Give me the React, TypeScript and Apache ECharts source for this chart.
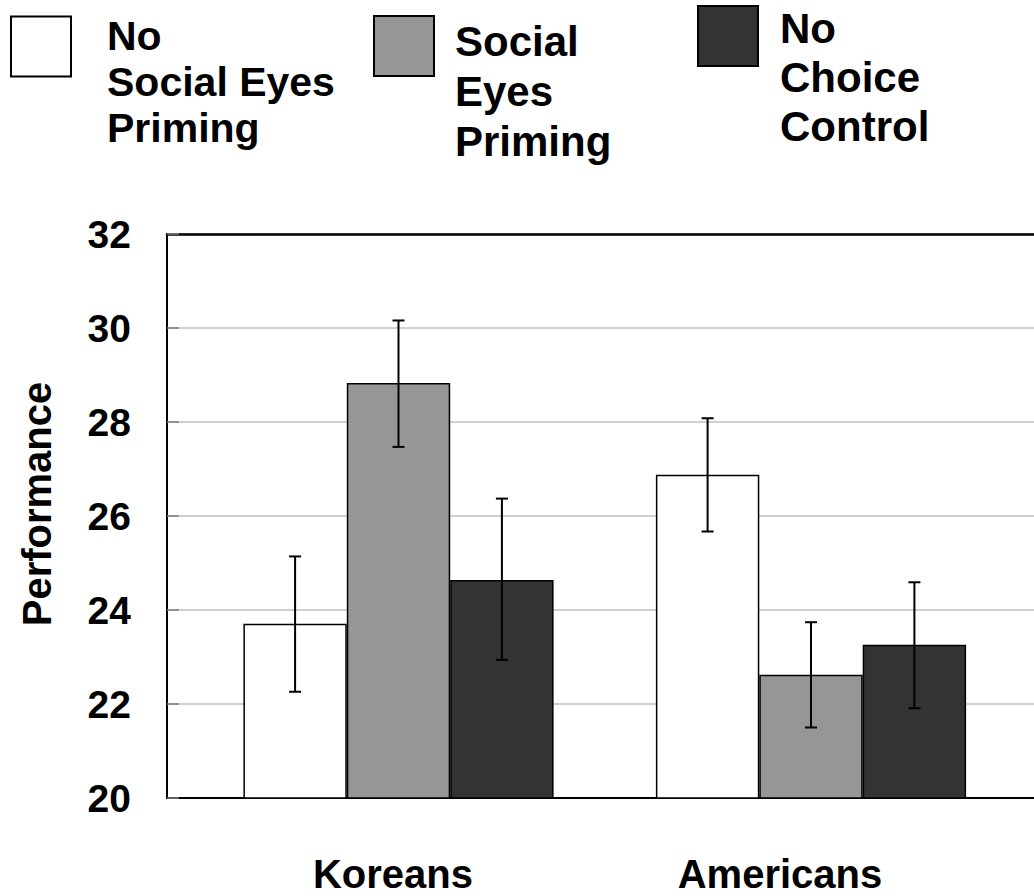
import React, { useEffect, useRef } from 'react';
import * as echarts from 'echarts';

const categories = ['Koreans', 'Americans'];
const seriesNames = ['No\nSocial Eyes\nPriming', 'Social\nEyes\nPriming', 'No\nChoice\nControl'];
const meanNoEyes = [23.71, 26.88];
const meanEyes = [28.83, 22.62];
const meanControl = [24.64, 23.26];
const lowNoEyes = [22.26, 25.67];
const highNoEyes = [25.14, 28.08];
const lowEyes = [27.47, 21.5];
const highEyes = [30.16, 23.74];
const lowControl = [22.94, 21.91];
const highControl = [26.37, 24.59];
const yMin = 20;
const yMax = 32;
const yStep = 2;

const FONT = "'Liberation Sans', Arial, sans-serif";
const COLORS = ['#ffffff', '#969696', '#333333'];
const BAR_W = 103.4;
const X_MIN = 0.4388;
const X_MAX = 0.4388 + 867 / 412.5;

export default function App() {
  const ref = useRef<HTMLDivElement>(null);
  useEffect(() => {
    if (!ref.current) return;
    const chart = echarts.init(ref.current, null, { renderer: 'svg' });
    const groupPos = categories.map((_, i) => i + 1);
    const means = [meanNoEyes, meanEyes, meanControl];
    const lows = [lowNoEyes, lowEyes, lowControl];
    const highs = [highNoEyes, highEyes, highControl];

    const barSeries = seriesNames.map((name, k) => ({
      type: 'bar',
      name,
      xAxisIndex: 0,
      yAxisIndex: 0,
      barWidth: BAR_W,
      barGap: '0%',
      data: groupPos.map((p, i) => [p, means[k][i]]),
      itemStyle: { color: COLORS[k], borderColor: '#000', borderWidth: 1.5 },
      z: 2,
    }));

    const errSeries = seriesNames.map((_, k) => ({
      type: 'custom',
      xAxisIndex: 0,
      yAxisIndex: 0,
      silent: true,
      z: 5,
      data: groupPos.map((p, i) => [p, lows[k][i], highs[k][i]]),
      encode: { x: 0, y: [1, 2] },
      renderItem: (params: any, api: any) => {
        const x = api.value(0);
        const lo = api.coord([x, api.value(1)]);
        const hi = api.coord([x, api.value(2)]);
        const cx = lo[0] + (k - 1) * BAR_W;
        const st = { stroke: '#000', lineWidth: 2 };
        return {
          type: 'group',
          children: [
            { type: 'line', shape: { x1: cx, y1: hi[1], x2: cx, y2: lo[1] }, style: st },
            { type: 'line', shape: { x1: cx - 6, y1: hi[1], x2: cx + 6, y2: hi[1] }, style: st },
            { type: 'line', shape: { x1: cx - 6, y1: lo[1], x2: cx + 6, y2: lo[1] }, style: st },
          ],
        };
      },
    }));

    const legendCfg = [
      { left: 10, iconTop: 16.5, L: 46, P: 71, fs: 41, padLeft: 31 },
      { left: 373, iconTop: 16, L: 50, P: 90, fs: 42, padLeft: 16 },
      { left: 697, iconTop: 6, L: 49, P: 82, fs: 42, padLeft: 17 },
    ];
    const legends = legendCfg.map((c, k) => {
      const H = c.P + 3 * c.L;
      return {
        data: [seriesNames[k]],
        left: c.left,
        top: c.iconTop - (H / 2 - 30),
        padding: 0,
        itemWidth: 60,
        itemHeight: 60,
        icon: 'rect',
        selectedMode: false,
        formatter: (name: string) =>
          '{sp| }\n' + name.split('\n').map((s) => `{t|${s}}`).join('\n'),
        textStyle: {
          fontSize: c.fs,
          fontWeight: 'bold',
          fontFamily: FONT,
          color: '#000',
          padding: [0, 0, 0, c.padLeft],
          rich: {
            sp: { fontSize: 10, height: c.P, lineHeight: c.P },
            t: {
              fontSize: c.fs,
              fontWeight: 'bold',
              fontFamily: FONT,
              color: '#000',
              lineHeight: c.L,
            },
          },
        },
      };
    });

    chart.setOption({
      animation: false,
      backgroundColor: '#fff',
      legend: legends,
      grid: [
        { left: 167, right: 0, top: 234, bottom: 98, show: false },
        { left: 199.5, width: 774, top: 234, bottom: 98 },
      ],
      xAxis: [
        {
          type: 'value',
          gridIndex: 0,
          min: X_MIN,
          max: X_MAX,
          axisLine: { show: true, onZero: false, lineStyle: { color: '#000', width: 2 } },
          axisTick: { show: false },
          axisLabel: { show: false },
          splitLine: { show: false },
        },
        {
          type: 'category',
          gridIndex: 1,
          data: categories,
          axisLine: { show: false },
          axisTick: { show: false },
          axisLabel: { margin: 56, fontSize: 40, fontWeight: 'bold', color: '#000', fontFamily: FONT },
        },
        {
          type: 'value',
          gridIndex: 0,
          position: 'top',
          min: X_MIN,
          max: X_MAX,
          axisLine: { show: true, onZero: false, lineStyle: { color: '#000', width: 2.5 } },
          axisTick: { show: false },
          axisLabel: { show: false },
          splitLine: { show: false },
        },
      ],
      yAxis: [
        {
          type: 'value',
          gridIndex: 0,
          min: yMin,
          max: yMax,
          interval: yStep,
          name: 'Performance',
          nameLocation: 'middle',
          nameGap: 110,
          nameTextStyle: { fontSize: 40, fontWeight: 'bold', color: '#000', fontFamily: FONT, padding: [0, 0, 0, 24] },
          axisLine: { show: true, onZero: false, lineStyle: { color: '#000', width: 2 } },
          axisTick: { show: true, inside: true, length: 12, lineStyle: { color: '#808080', width: 1.5 } },
          axisLabel: { margin: 36, fontSize: 39, fontWeight: 'bold', color: '#000', fontFamily: FONT },
          splitLine: { show: true, lineStyle: { color: '#c0c0c0', width: 1.5 } },
        },
        { type: 'value', gridIndex: 1, show: false, min: yMin, max: yMax },
      ],
      series: [...barSeries, ...errSeries],
    });
    return () => chart.dispose();
  }, []);
  return (
    <div
      ref={ref}
      style={{ position: 'fixed', left: 0, top: 0, width: 1034, height: 896 }}
    />
  );
}
